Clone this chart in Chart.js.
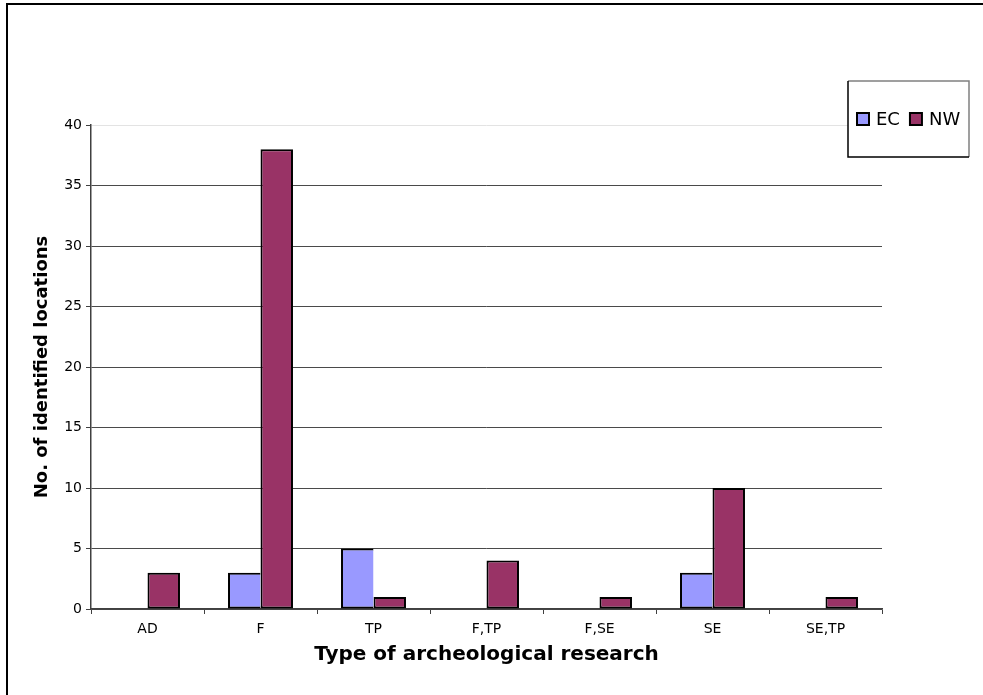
<!DOCTYPE html>
<html>
<head>
  <title>Type of archeological research</title>
  <style>
    html, body { margin: 0; padding: 0; background: #fff; }
    .wrap { width: 983px; height: 695px; position: relative; }
  </style>
  <script src="https://cdn.jsdelivr.net/npm/chart.js"></script>
</head>
<body>
  <div class="wrap">
    <canvas id="researchChart" width="983" height="695"></canvas>
  </div>
  <script>
    // chart data
    const categories = ['AD', 'F', 'TP', 'F,TP', 'F,SE', 'SE', 'SE,TP'];
    const ecValues = [0, 3, 5, 0, 0, 3, 0];
    const nwValues = [3, 38, 1, 4, 1, 10, 1];
    const seriesNames = ['EC', 'NW'];
    const seriesColors = ['#9999FF', '#993366'];

    const FONT = "'DejaVu Sans', Verdana, sans-serif";

    // frame around the whole chart (only top/left are visible in the picture)
    const framePlugin = {
      id: 'frame',
      beforeDraw(chart) {
        const ctx = chart.ctx;
        ctx.save();
        ctx.strokeStyle = '#000';
        ctx.lineWidth = 2;
        ctx.strokeRect(7, 4, 1100, 1100);
        ctx.restore();
      }
    };

    // boxed legend at the top right, like the Excel original
    const boxLegendPlugin = {
      id: 'boxLegend',
      afterDraw(chart) {
        const ctx = chart.ctx;
        const x0 = 848, y0 = 81, w = 121, h = 76;
        ctx.save();
        ctx.fillStyle = '#fff';
        ctx.fillRect(x0, y0, w, h);
        ctx.lineWidth = 1.5;
        ctx.strokeStyle = '#808080';
        ctx.beginPath();
        ctx.moveTo(x0, y0); ctx.lineTo(x0 + w, y0); ctx.lineTo(x0 + w, y0 + h);
        ctx.stroke();
        ctx.strokeStyle = '#000';
        ctx.beginPath();
        ctx.moveTo(x0, y0); ctx.lineTo(x0, y0 + h); ctx.lineTo(x0 + w, y0 + h);
        ctx.stroke();

        ctx.font = '18px ' + FONT;
        ctx.textBaseline = 'middle';
        let x = 857;
        const cy = 119;
        chart.data.datasets.forEach(ds => {
          ctx.fillStyle = ds.backgroundColor;
          ctx.fillRect(x, cy - 6, 12, 12);
          ctx.strokeStyle = '#000';
          ctx.lineWidth = 2;
          ctx.strokeRect(x, cy - 6, 12, 12);
          ctx.fillStyle = '#000';
          ctx.fillText(ds.label, x + 19, cy + 1);
          x += 19 + ctx.measureText(ds.label).width + 10;
        });
        ctx.restore();
      }
    };

    const ctx = document.getElementById('researchChart').getContext('2d');
    new Chart(ctx, {
      type: 'bar',
      data: {
        labels: categories,
        datasets: [
          {
            label: seriesNames[0],
            data: ecValues,
            backgroundColor: seriesColors[0],
            borderColor: '#000',
            // right edge is shared with the NW bar
            borderWidth: { top: 2, left: 2, bottom: 2, right: 0 },
            borderSkipped: false
          },
          {
            label: seriesNames[1],
            data: nwValues,
            backgroundColor: seriesColors[1],
            borderColor: '#000',
            borderWidth: 2,
            borderSkipped: false
          }
        ]
      },
      options: {
        responsive: false,
        animation: false,
        layout: { padding: { left: 0, top: 125, right: 101, bottom: 0 } },
        plugins: {
          legend: { display: false },
          tooltip: { enabled: false }
        },
        datasets: {
          bar: { categoryPercentage: 0.575, barPercentage: 1.0, inflateAmount: 0 }
        },
        scales: {
          x: {
            afterFit(scale) { scale.height = 86; },
            grid: {
              drawOnChartArea: false,
              drawTicks: true,
              tickLength: 5,
              color: '#404040'
            },
            border: { color: '#404040', width: 1.5 },
            ticks: {
              color: '#000',
              padding: 7,
              font: { family: FONT, size: 14 }
            },
            title: {
              display: true,
              text: 'Type of archeological research',
              color: '#000',
              padding: { top: 0, bottom: 28 },
              font: { family: FONT, size: 20, weight: 'bold' }
            }
          },
          y: {
            min: 0,
            max: 40,
            afterFit(scale) { scale.width = 91; },
            grid: {
              color: ctx => (ctx.tick && ctx.tick.value === 40) ? '#e3e3e3' : '#4a4a4a',
              tickColor: '#404040',
              tickLength: 5
            },
            border: { color: '#404040', width: 1.5 },
            ticks: {
              stepSize: 5,
              color: '#000',
              padding: 4,
              font: { family: FONT, size: 14 }
            },
            title: {
              display: true,
              text: 'No. of identified locations',
              color: '#000',
              padding: { top: 32, bottom: 0 },
              font: { family: FONT, size: 18, weight: 'bold' }
            }
          }
        }
      },
      plugins: [framePlugin, boxLegendPlugin]
    });
  </script>
</body>
</html>
